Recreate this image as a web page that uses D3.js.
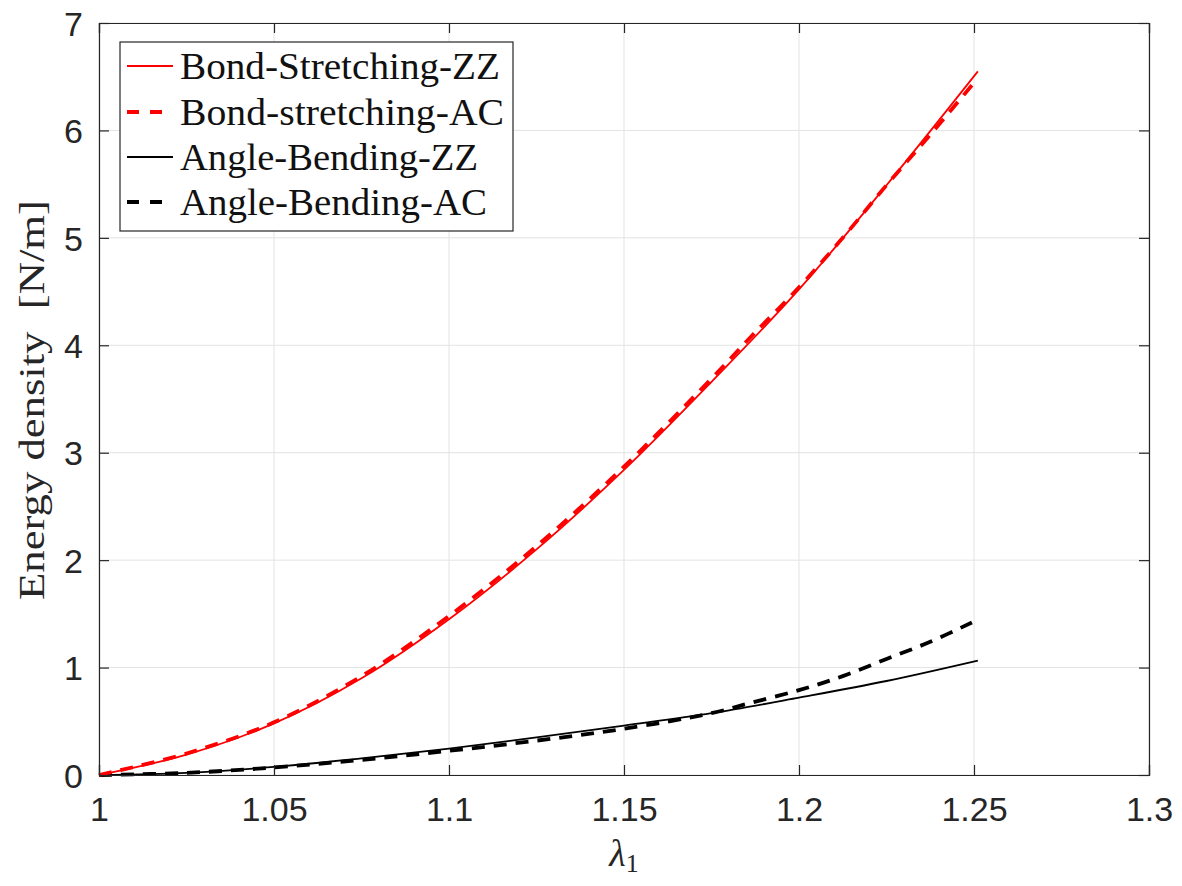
<!DOCTYPE html>
<html>
<head>
<meta charset="utf-8">
<script src="https://cdn.jsdelivr.net/npm/d3@7"></script>
<style>
  html, body { margin: 0; padding: 0; background: #fff; }
  svg { display: block; }
</style>
</head>
<body>
<svg id="chart" width="1182" height="886"></svg>
<script>
// ---- data ----
const lambdaZZ = [1.000, 1.025, 1.050, 1.075, 1.100, 1.125, 1.150, 1.175, 1.200, 1.225, 1.2511];
const lambdaAC = [1.000, 1.025, 1.050, 1.075, 1.100, 1.125, 1.150, 1.175, 1.186, 1.200, 1.2125, 1.225, 1.2375, 1.2494];

const bondZZ  = [0, 0.19, 0.48, 0.90, 1.45, 2.10, 2.84, 3.66, 4.52, 5.49, 6.55];
const bondAC  = [0, 0.20, 0.49, 0.92, 1.48, 2.13, 2.87, 3.69, 4.07, 4.54, 5.00, 5.49, 5.96, 6.42];
const angleZZ = [0, 0.02, 0.075, 0.155, 0.245, 0.35, 0.46, 0.575, 0.72, 0.875, 1.065];
const angleAC = [0, 0.02, 0.07, 0.14, 0.225, 0.32, 0.43, 0.575, 0.67, 0.79, 0.92, 1.08, 1.24, 1.42];

const xTicks = [1, 1.05, 1.1, 1.15, 1.2, 1.25, 1.3];
const xTickLabels = ["1", "1.05", "1.1", "1.15", "1.2", "1.25", "1.3"];
const yTicks = [0, 1, 2, 3, 4, 5, 6, 7];
const yTickLabels = ["0", "1", "2", "3", "4", "5", "6", "7"];

const seriesNames = ["Bond-Stretching-ZZ", "Bond-stretching-AC", "Angle-Bending-ZZ", "Angle-Bending-AC"];
const seriesColors = ["#ff0000", "#ff0000", "#000000", "#000000"];
const seriesDashed = [false, true, false, true];

// ---- layout ----
const svg = d3.select("#chart");
const L = 99, R = 1149, T = 23, B = 775;
const x = d3.scaleLinear().domain([1, 1.3]).range([L, R]);
const y = d3.scaleLinear().domain([0, 7]).range([B, T]);
const axisColor = "#262626";

// grid
const grid = svg.append("g");
grid.selectAll("line.gx").data(xTicks).join("line")
  .attr("x1", d => x(d)).attr("x2", d => x(d)).attr("y1", T).attr("y2", B)
  .attr("stroke", "#e3e3e3").attr("stroke-width", 1);
grid.selectAll("line.gy").data(yTicks).join("line")
  .attr("y1", d => y(d)).attr("y2", d => y(d)).attr("x1", L).attr("x2", R)
  .attr("stroke", "#e3e3e3").attr("stroke-width", 1);

// curves
const allX = [lambdaZZ, lambdaAC, lambdaZZ, lambdaAC];
const allY = [bondZZ, bondAC, angleZZ, angleAC];
const widths = [1.8, 3.8, 1.8, 3.8];
const line = d3.line().x(d => x(d[0])).y(d => y(d[1])).curve(d3.curveCatmullRom.alpha(0.5));
const drawOrder = [2, 3, 0, 1];
drawOrder.forEach(i => {
  const pts = allX[i].map((v, k) => [v, allY[i][k]]);
  svg.append("path").datum(pts)
    .attr("d", line)
    .attr("fill", "none")
    .attr("stroke", seriesColors[i])
    .attr("stroke-width", widths[i])
    .attr("stroke-dasharray", seriesDashed[i] ? "13,9" : null);
});

// axes (box with inward ticks)
const tickLen = 10;
const axB = svg.append("g").attr("transform", `translate(0,${B})`)
  .call(d3.axisBottom(x).tickValues(xTicks).tickSize(-tickLen).tickPadding(22)
    .tickFormat((d, i) => xTickLabels[i]));
const axT = svg.append("g").attr("transform", `translate(0,${T})`)
  .call(d3.axisTop(x).tickValues(xTicks).tickSize(-tickLen).tickFormat(""));
const axL = svg.append("g").attr("transform", `translate(${L},0)`)
  .call(d3.axisLeft(y).tickValues(yTicks).tickSize(-tickLen).tickPadding(16)
    .tickFormat((d, i) => yTickLabels[i]));
const axR = svg.append("g").attr("transform", `translate(${R},0)`)
  .call(d3.axisRight(y).tickValues(yTicks).tickSize(-tickLen).tickFormat(""));
[axB, axT, axL, axR].forEach(a => {
  a.select(".domain").attr("stroke", axisColor).attr("stroke-width", 1.2);
  a.selectAll(".tick line").attr("stroke", axisColor).attr("stroke-width", 1.2);
  a.selectAll(".tick text").attr("fill", "#262626")
    .style("font-family", "'Liberation Sans', Arial, Helvetica, sans-serif")
    .style("font-size", "34px");
});
axB.selectAll(".tick text").attr("dy", "0.71em");
axL.selectAll(".tick text").attr("dy", "0.36em");

// axis labels
svg.append("text")
  .attr("transform", `translate(44,400) rotate(-90)`)
  .attr("text-anchor", "middle")
  .attr("textLength", 400)
  .attr("lengthAdjust", "spacingAndGlyphs")
  .style("font-family", "'Liberation Serif', 'Times New Roman', serif")
  .style("font-size", "35px")
  .attr("fill", "#262626")
  .text("Energy density\u00a0\u00a0[N/m]");

const xl = svg.append("text")
  .attr("x", 624).attr("y", 866)
  .attr("text-anchor", "middle")
  .style("font-family", "'Liberation Serif', 'Times New Roman', serif")
  .attr("fill", "#262626");
xl.append("tspan").style("font-style", "italic").style("font-size", "38px").text("λ");
xl.append("tspan").style("font-size", "26px").attr("dy", 6).text("1");

// legend
const lg = svg.append("g");
lg.append("rect").attr("x", 120).attr("y", 42).attr("width", 393).attr("height", 189)
  .attr("fill", "#fff").attr("stroke", axisColor).attr("stroke-width", 1.2);
const rowY = [66, 112, 157, 202];
const textW = [320, 324, 298, 307];
seriesNames.forEach((name, i) => {
  lg.append("line")
    .attr("x1", 127).attr("x2", 173).attr("y1", rowY[i]).attr("y2", rowY[i])
    .attr("stroke", seriesColors[i])
    .attr("stroke-width", seriesDashed[i] ? 3.8 : 1.8)
    .attr("stroke-dasharray", seriesDashed[i] ? "12,11" : null);
  lg.append("text")
    .attr("x", 180).attr("y", rowY[i]).attr("dy", "0.35em")
    .attr("textLength", textW[i])
    .attr("lengthAdjust", "spacingAndGlyphs")
    .style("font-family", "'Liberation Serif', 'Times New Roman', serif")
    .style("font-size", "37px")
    .attr("fill", "#111")
    .text(name);
});
</script>
</body>
</html>
